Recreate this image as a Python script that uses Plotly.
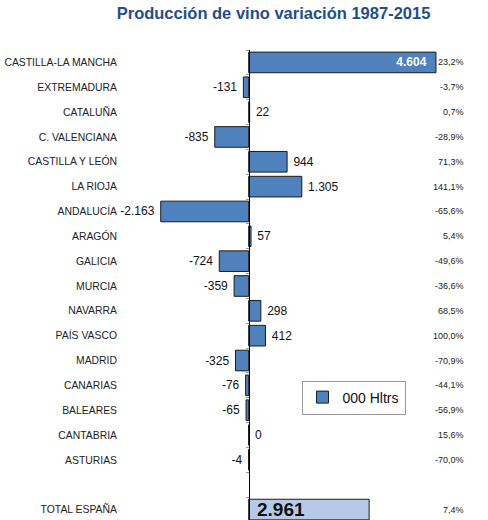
import plotly.graph_objects as go

categories = ["CASTILLA-LA MANCHA", "EXTREMADURA", "CATALUÑA", "C. VALENCIANA",
              "CASTILLA Y LEÓN", "LA RIOJA", "ANDALUCÍA", "ARAGÓN", "GALICIA",
              "MURCIA", "NAVARRA", "PAÍS VASCO", "MADRID", "CANARIAS", "BALEARES",
              "CANTABRIA", "ASTURIAS", " ", "TOTAL ESPAÑA"]
values = [4604, -131, 22, -835, 944, 1305, -2163, 57, -724, -359, 298, 412,
          -325, -76, -65, 0, -4, None, None]
total_value = 2961
total_label = "TOTAL ESPAÑA"
pct_labels = ["23,2%", "-3,7%", "0,7%", "-28,9%", "71,3%", "141,1%", "-65,6%",
              "5,4%", "-49,6%", "-36,6%", "68,5%", "100,0%", "-70,9%", "-44,1%",
              "-56,9%", "15,6%", "-70,0%", "", "7,4%"]
series_name = "000 Hltrs"

FONT = "Liberation Sans, Arial"
NB = "\u00a0"


def fmt(v):
    return "{:,}".format(v).replace(",", ".")


x_min, x_max = -3115, 4703

texts = []
positions = []
for i, v in enumerate(values):
    if v is None:
        texts.append("")
        positions.append("none")
    elif i == 0:
        texts.append("<b>" + fmt(v) + "</b>" + NB * 2)
        positions.append("inside")
    elif v >= 0:
        texts.append(NB + fmt(v))
        positions.append("outside")
    else:
        texts.append(fmt(v) + NB)
        positions.append("outside")

fig = go.Figure()
fig.add_trace(go.Bar(
    y=categories, x=values, orientation="h", name=series_name,
    width=0.83,
    marker=dict(color="#4F81BD", line=dict(color="#1b1b1b", width=1)),
    text=texts, textposition=positions,
    insidetextfont=dict(color="white", size=12, family=FONT),
    outsidetextfont=dict(color="#111", size=12, family=FONT),
    cliponaxis=False, constraintext="none", showlegend=True,
))
fig.add_trace(go.Bar(
    y=[total_label], x=[total_value], orientation="h", name="total",
    width=0.83,
    marker=dict(color="#B6CAE8", line=dict(color="#1b1b1b", width=1)),
    text=[NB + "<b>" + fmt(total_value) + "</b>"], textposition="inside",
    insidetextanchor="start",
    insidetextfont=dict(color="#111", size=19, family=FONT),
    cliponaxis=False, constraintext="none", showlegend=False,
))
# invisible helper trace for the zero axis line with ticks
fig.add_trace(go.Scatter(y=categories, x=[None] * len(categories), yaxis="y2",
                         mode="markers", showlegend=False, hoverinfo="skip"))

for c, p in zip(categories, pct_labels):
    if p:
        fig.add_annotation(x=1.082, xref="paper", y=c, yref="y", text=p,
                           showarrow=False, xanchor="right",
                           font=dict(size=9, color="#222", family=FONT))

zero_pos = (0 - x_min) / (x_max - x_min)

fig.update_layout(
    width=488, height=520,
    margin=dict(l=122, r=48, t=50, b=0),
    paper_bgcolor="white", plot_bgcolor="white",
    barmode="overlay",
    title=dict(text="<b>Producción de vino variación 1987-2015</b>",
               x=0.5605, xanchor="center", y=0.975, yanchor="middle",
               font=dict(size=16.5, color="#1F4E89", family=FONT)),
    xaxis=dict(range=[x_min, x_max], showgrid=False, zeroline=False,
               showticklabels=False, ticks="", showline=False),
    yaxis=dict(categoryorder="array", categoryarray=categories,
               range=[18.42, -0.5], showgrid=False, showline=False, ticks="",
               ticklabelstandoff=4,
               tickfont=dict(size=10.4, color="#222", family=FONT)),
    yaxis2=dict(overlaying="y", matches="y", anchor="free", position=zero_pos,
                side="left", showline=True, linecolor="black", linewidth=1,
                ticks="outside", tickson="boundaries", ticklen=3, tickcolor="#999",
                showticklabels=False, showgrid=False,
                categoryorder="array", categoryarray=categories),
    legend=dict(x=0.728, y=0.2606, xanchor="center", yanchor="middle",
                bordercolor="#999", borderwidth=1, bgcolor="white",
                font=dict(size=14, color="#111", family=FONT)),
    showlegend=True,
)

fig.write_html(
    "out.html",
    config={"displayModeBar": False},
    post_script="document.body.style.margin='0';document.documentElement.style.overflow='hidden';",
)
